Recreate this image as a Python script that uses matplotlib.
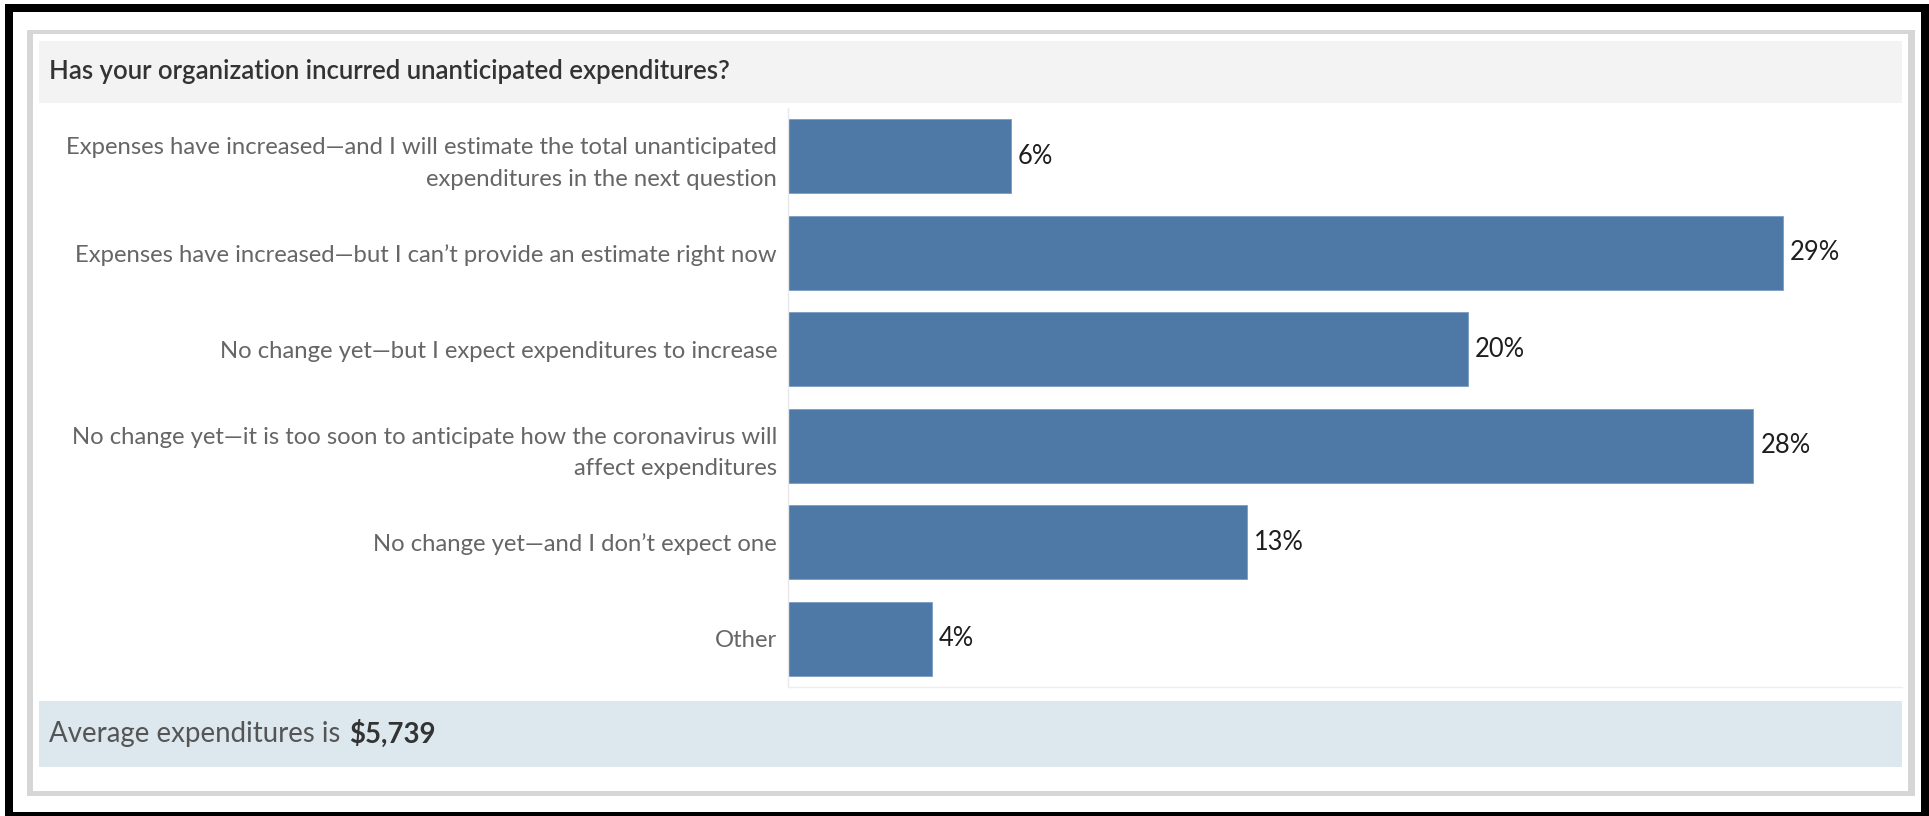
import matplotlib
matplotlib.use("Agg")
import matplotlib.pyplot as plt
from matplotlib.patches import Rectangle

# ---------------- data ----------------
categories = [
    "Expenses have increased\u2014and I will estimate the total unanticipated\nexpenditures in the next question",
    "Expenses have increased\u2014but I can\u2019t provide an estimate right now",
    "No change yet\u2014but I expect expenditures to increase",
    "No change yet\u2014it is too soon to anticipate how the coronavirus will\naffect expenditures",
    "No change yet\u2014and I don\u2019t expect one",
    "Other",
]
values = [6.43, 28.70, 19.61, 27.85, 13.25, 4.16]
value_labels = ["6%", "29%", "20%", "28%", "13%", "4%"]
title = "Has your organization incurred unanticipated expenditures?"
footer_prefix = "Average expenditures is"
footer_value = "$5,739"

# ---------------- layout ----------------
W, H = 1929, 816
plt.rcParams['font.family'] = ['Lato', 'DejaVu Sans']
fig = plt.figure(figsize=(W / 100, H / 100), dpi=100)
fig.patch.set_facecolor("white")
renderer = fig.canvas.get_renderer()


def fx(x):
    return x / W


def fy(y):
    return 1 - y / H


def prect(x0, y0, x1, y1, color, z=0):
    fig.patches.append(Rectangle((fx(x0), fy(y1)), (x1 - x0) / W, (y1 - y0) / H,
                                 transform=fig.transFigure, facecolor=color,
                                 edgecolor="none", zorder=z))


def fit_size(text_obj, target_px):
    text_obj.set_fontsize(20)
    w = text_obj.get_window_extent(renderer).width
    text_obj.set_fontsize(20 * target_px / w)
    return 20 * target_px / w


# frames
prect(5, 4, 1929, 12, "black")
prect(5, 4, 13, 816, "black")
prect(1921, 4, 1929, 816, "black")
prect(5, 812, 1929, 816, "black")
prect(27, 30, 1915, 34, "#d6d6d6")
prect(27, 30, 33, 796, "#d6d6d6")
prect(1908, 30, 1915, 796, "#d6d6d6")
prect(27, 791, 1915, 796, "#d6d6d6")

# title band and footer band
prect(39, 41, 1902, 103, "#f3f3f3")
prect(39, 701, 1902, 767, "#dde8ee")

t = fig.text(fx(49), fy(72), title, ha="left", va="center", color="#333333",
             fontweight="semibold")
fit_size(t, 682)

fp = fig.text(fx(49), fy(734), footer_prefix, ha="left", va="center", color="#555555")
fs = fit_size(fp, 292)
fv = fig.text(fx(349), fy(734), footer_value, ha="left", va="center", color="#333333",
              fontweight="bold", fontsize=fs)

# ---------------- chart ----------------
ax_left, ax_right, ax_top, ax_bottom = 788, 1902, 108, 687
ax = fig.add_axes([fx(ax_left), fy(ax_bottom), (ax_right - ax_left) / W,
                   (ax_bottom - ax_top) / H])
ax.set_facecolor("none")
band = (ax_bottom - ax_top) / len(categories)
px_per_unit = 34.666
ypos = list(range(len(categories)))
ax.barh(ypos, values, height=74 / band, color="#4e79a7", edgecolor="#7a9cc4",
        linewidth=0.6)
ax.set_ylim(len(categories) - 0.5, -0.5)
ax.set_xlim(0, (ax_right - ax_left) / px_per_unit)
ax.set_xticks([])
ax.set_yticks(ypos)
ax.set_yticklabels(categories, color="#666666", linespacing=1.62,
                   multialignment="right")
ax.tick_params(axis="y", length=0, pad=11 * 72 / 100)
for s in ["top", "right"]:
    ax.spines[s].set_visible(False)
ax.spines["left"].set_color("#e8e8e8")
ax.spines["bottom"].set_color("#eeeeee")
ax.spines["left"].set_linewidth(1)
ax.spines["bottom"].set_linewidth(1)

# fit ytick label font size by widest first line
probe = fig.text(0, 0, "Expenses have increased\u2014and I will estimate the total unanticipated")
lsize = fit_size(probe, 714)
probe.remove()
for lab in ax.get_yticklabels():
    lab.set_fontsize(lsize)

probe = fig.text(0, 0, "29%")
vsize = fit_size(probe, 50)
probe.remove()
for i, (v, lab) in enumerate(zip(values, value_labels)):
    ax.annotate(lab, xy=(v, i), xytext=(7 * 72 / 100, 0), textcoords="offset points",
                ha="left", va="center", color="#1e1e1e", fontsize=vsize)

fig.savefig("out.png", dpi=100, facecolor="white")
